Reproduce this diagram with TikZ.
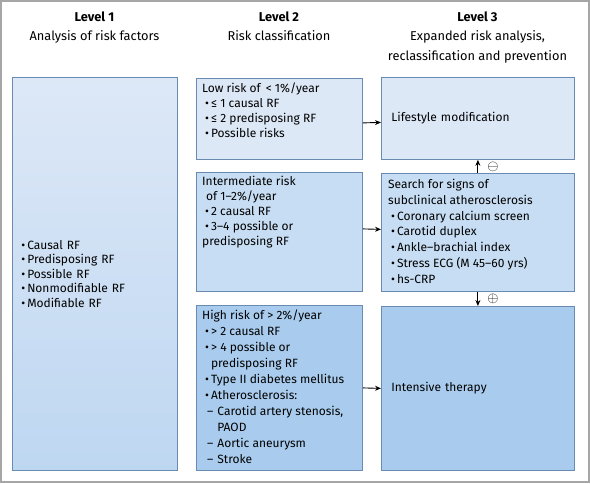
\documentclass[tikz,border=0pt]{standalone}
\usepackage{fontspec}
\setmainfont{Fira Sans}
\usetikzlibrary{arrows.meta, positioning}

\definecolor{boxline}{HTML}{6A8BB1}
\definecolor{fillA}{HTML}{DDE8F7}
\definecolor{fillB}{HTML}{C7DDF3}
\definecolor{fillC}{HTML}{A9CCEE}
\definecolor{fillL}{HTML}{BED7F1}
\definecolor{framegray}{HTML}{A6A6A6}

\newcommand{\bl}{\hspace*{3pt}\textbullet\,}
\newcommand{\dsh}{\hspace*{5pt}--\hspace{4pt}}

\begin{document}
\begin{tikzpicture}[
    x=1pt, y=-1pt,
    box/.style={draw=boxline, line width=0.8pt, anchor=north west, inner sep=0pt},
    txt/.style={inner sep=0pt, align=left, font=\fontsize{12}{15}\selectfont},
    head/.style={anchor=north, align=center, font=\fontsize{12.8}{19.5}\selectfont},
    arr/.style={-{Stealth[length=6pt, width=5pt]}, line width=0.9pt, color=black},
    sgn/.style={inner sep=0pt, font=\fontsize{14}{14}\selectfont}
]
\useasboundingbox (0,0) rectangle (590,483);
\draw[framegray, line width=2pt] (1,1) rectangle (589,482);

% headers
\node[head] (h1) at (94.5,8) {\textbf{Level 1}\\Analysis of risk factors};
\node[head] (h2) at (279,8) {\textbf{Level 2}\\Risk classification};
\node[head] (h3) at (477.5,8) {\textbf{Level 3}\\Expanded risk analysis,\\reclassification and prevention};

% level 1
\node[box, top color=fillA, bottom color=fillL, minimum width=165pt, minimum height=393pt,
      text width=147pt, inner xsep=9pt, align=left, font=\fontsize{12}{14.6}\selectfont] (lvl1) at (12,77)
  {\textbullet\,Causal RF\\\textbullet\,Predisposing RF\\\textbullet\,Possible RF\\\textbullet\,Nonmodifiable RF\\\textbullet\,Modifiable RF};

% level 2
\node[box, fill=fillA, minimum width=166pt, minimum height=81pt] (low) at (196,78) {};
\node[box, fill=fillB, minimum width=166pt, minimum height=119pt] (mid) at (196,172) {};
\node[box, fill=fillC, minimum width=166pt, minimum height=165pt] (high) at (196,305) {};

\node[txt, below right=5pt and 6pt of low.north west] (lowtxt)
  {Low risk of \,< 1\%/year\\\bl≤ 1 causal RF\\\bl≤ 2 predisposing RF\\\bl Possible risks};
\node[txt, below right=4pt and 6pt of mid.north west] (midtxt)
  {Intermediate risk\\\hspace*{4pt}of 1--2\%/year\\\bl 2 causal RF\\\bl 3--4 possible or\\predisposing RF};
\node[txt, below right=5pt and 6pt of high.north west, font=\fontsize{12}{16}\selectfont] (hightxt)
  {High risk of > 2\%/year\\\bl > 2 causal RF\\\bl > 4 possible or\\\hphantom{\bl}predisposing RF\\\bl Type II diabetes mellitus\\\bl Atherosclerosis:\\\dsh Carotid artery stenosis,\\\hphantom{\dsh}PAOD\\\dsh Aortic aneurysm\\\dsh Stroke};

% level 3
\node[box, fill=fillA, minimum width=193pt, minimum height=82pt, text width=173pt,
      inner xsep=10pt, align=left, font=\fontsize{12}{15}\selectfont] (life) at (381,77) {Lifestyle modification};
\node[box, fill=fillB, minimum width=193pt, minimum height=118pt] (search) at (381,173) {};
\node[box, fill=fillC, minimum width=193pt, minimum height=164pt, text width=173pt,
      inner xsep=10pt, align=left, font=\fontsize{12}{15}\selectfont] (inten) at (381,306) {Intensive therapy};

\node[txt, below right=6pt and 7pt of search.north west, font=\fontsize{12}{15.8}\selectfont] (searchtxt)
  {Search for signs of\\subclinical atherosclerosis\\\bl Coronary calcium screen\\\bl Carotid duplex\\\bl Ankle--brachial index\\\bl Stress ECG (M 45--60 yrs)\\\bl hs-CRP};

% connectors
\draw[arr] ([yshift=-4pt]low.east) -- ([yshift=-4pt]life.west);
\draw[arr] ([yshift=3pt]mid.east) -- ([yshift=3pt]search.west);
\draw[arr] (high.east) -- (inten.west);
\draw[arr] (search.north) -- node[sgn, right=9pt] (minus) {$\ominus$} (life.south);
\draw[arr] (search.south) -- node[sgn, right=9pt] (plus) {$\oplus$} (inten.north);
\end{tikzpicture}
\end{document}
